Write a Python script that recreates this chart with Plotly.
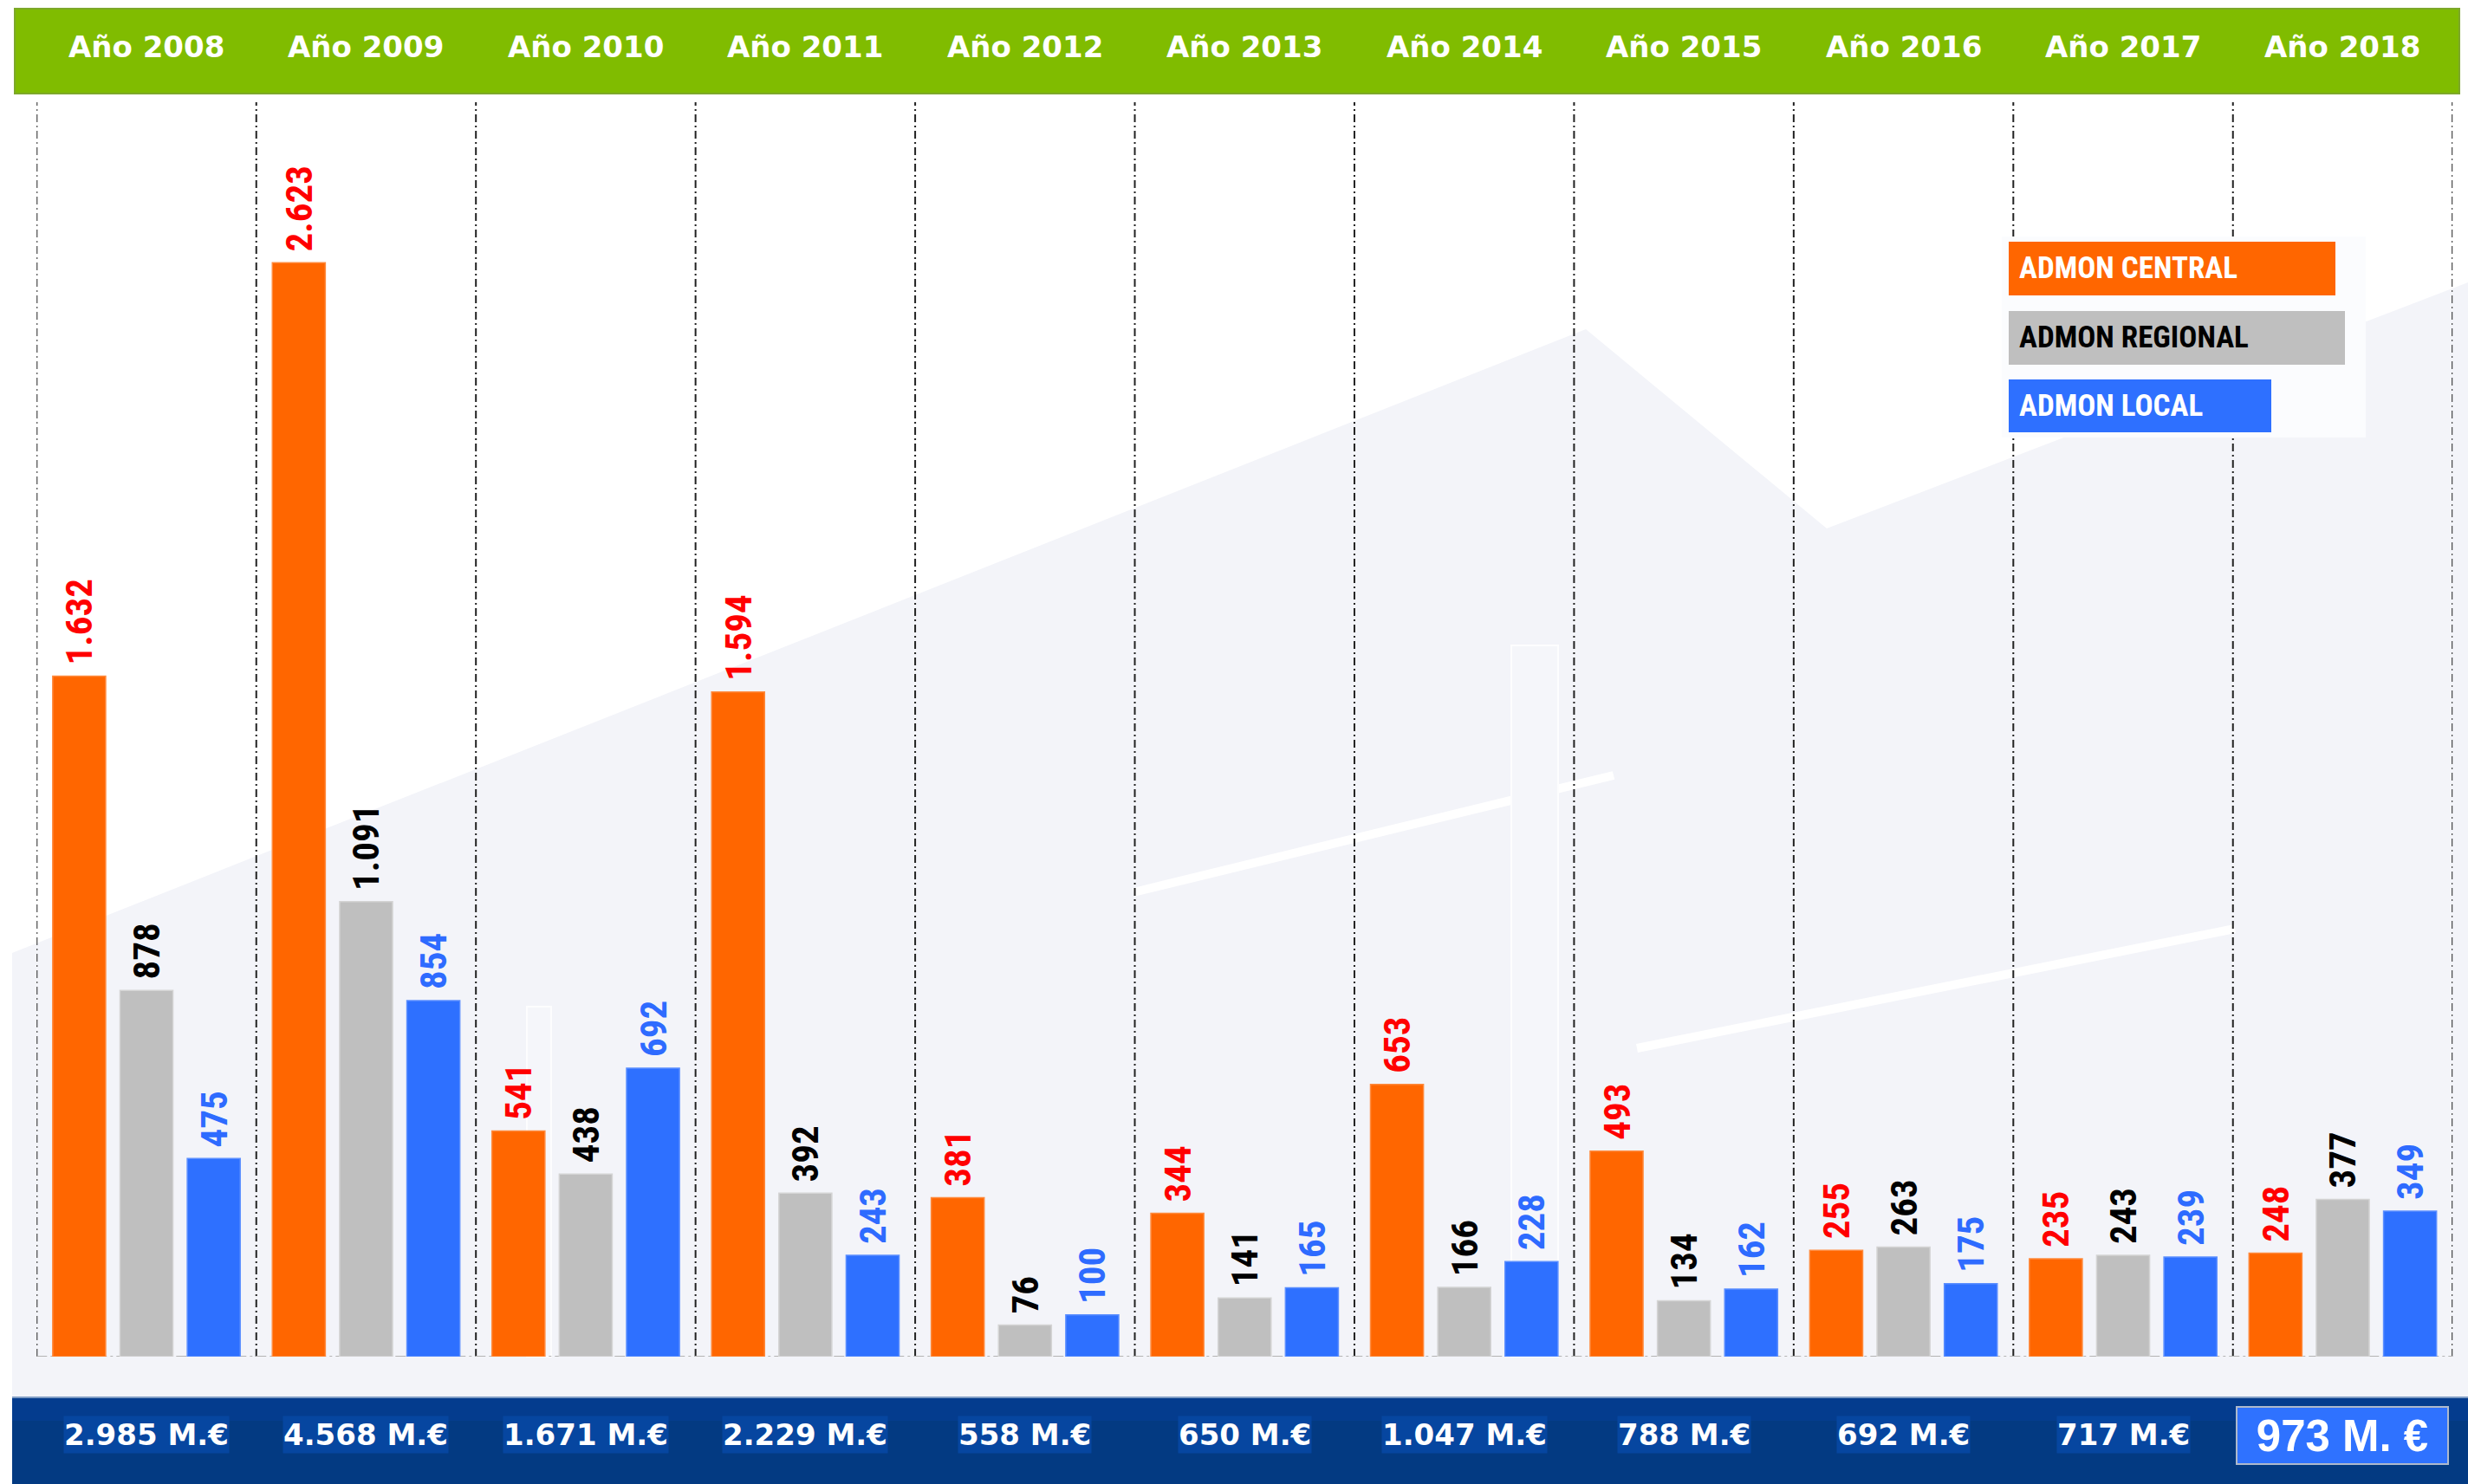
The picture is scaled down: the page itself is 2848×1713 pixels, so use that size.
import plotly.graph_objects as go

W, H = 2848, 1713

# ---------------- data ----------------
years = ["Año 2008", "Año 2009", "Año 2010", "Año 2011", "Año 2012", "Año 2013",
         "Año 2014", "Año 2015", "Año 2016", "Año 2017", "Año 2018"]
central = [1632, 2623, 541, 1594, 381, 344, 653, 493, 255, 235, 248]
regional = [878, 1091, 438, 392, 76, 141, 166, 134, 263, 243, 377]
local = [475, 854, 692, 243, 100, 165, 228, 162, 175, 239, 349]
totals = ["2.985 M.€", "4.568 M.€", "1.671 M.€", "2.229 M.€", "558 M.€", "650 M.€",
          "1.047 M.€", "788 M.€", "692 M.€", "717 M.€", "973 M. €"]
series_names = ["ADMON CENTRAL", "ADMON REGIONAL", "ADMON LOCAL"]

# ---------------- helpers ----------------
def px(x):
    return x / W


def py(y):
    return 1 - y / H


def fmt(v):
    return "\u00a0" + f"{v:,}".replace(",", ".")


def poly(points):
    s = "M " + " L ".join(f"{px(x):.5f},{py(y):.5f}" for x, y in points) + " Z"
    return s


LABEL_FONT = "Noto Sans Condensed, Roboto Condensed, Roboto, sans-serif"
HEAD_FONT = "DejaVu Sans, Verdana, sans-serif"

xs = list(range(len(years)))

series = [
    (central, "#FF6600", "#FF8A3D", "#FF0000"),
    (regional, "#BFBFBF", "#D4D4D4", "#000000"),
    (local, "#2E70FF", "#5C8FFF", "#2E6BFF"),
]

fig = go.Figure()
for (vals, col, edge, tcol), name in zip(series, series_names):
    fig.add_trace(go.Bar(
        x=xs, y=vals, name=name,
        marker=dict(color=col, line=dict(color=edge, width=1.5)),
        text=[fmt(v) for v in vals],
        textposition="outside",
        textangle=-90,
        constraintext="none",
        cliponaxis=False,
        textfont=dict(family=LABEL_FONT, size=43, color=tcol, weight="bold"),
        hoverinfo="skip",
    ))

shapes = []
# background building silhouette
shapes.append(dict(type="path", xref="paper", yref="paper", layer="below",
                   path=poly([(14, 1100), (1830, 380), (2108, 610), (2848, 326),
                              (2848, 1613), (14, 1613)]),
                   fillcolor="#F3F4F9", line=dict(width=0)))
for (x0, y0), (x1, y1) in [((1308, 1030), (1862, 895)), ((1889, 1210), (2579, 1072))]:
    shapes.append(dict(type="line", xref="paper", yref="paper", layer="below",
                       x0=px(x0), y0=py(y0), x1=px(x1), y1=py(y1),
                       line=dict(color="#FFFFFF", width=10)))
for (x0, y0, x1, y1) in [(1744, 745, 1798, 1566), (608, 1162, 636, 1566)]:
    shapes.append(dict(type="rect", xref="paper", yref="paper", layer="below",
                       x0=px(x0), y0=py(y0), x1=px(x1), y1=py(y1),
                       fillcolor="#F5F6FA", line=dict(color="#FDFDFE", width=2)))

# category separators (dash-dot)
for i in range(len(years) + 1):
    shapes.append(dict(type="line", xref="x", yref="y domain", layer="below",
                       x0=i - 0.5, x1=i - 0.5, y0=0, y1=1,
                       line=dict(color="#222222", width=2, dash="9px,4px,2px,4px")))
# baseline
shapes.append(dict(type="line", xref="x", yref="y", layer="below",
                   x0=-0.5, x1=len(years) - 0.5, y0=0, y1=0,
                   line=dict(color="#B4B4B4", width=2, dash="12px,4px,3px,4px")))

# green header
shapes.append(dict(type="rect", xref="paper", yref="paper", layer="above",
                   x0=px(17), x1=px(2838), y0=py(108), y1=py(10),
                   fillcolor="#80BC00", line=dict(color="#7DA82A", width=2)))
# bottom band
shapes.append(dict(type="rect", xref="paper", yref="paper", layer="above",
                   x0=px(14), x1=px(2848), y0=py(1713), y1=py(1613),
                   fillcolor="#033A82", line=dict(width=0)))
shapes.append(dict(type="rect", xref="paper", yref="paper", layer="above",
                   x0=px(14), x1=px(2848), y0=py(1640), y1=py(1613),
                   fillcolor="#043C8E", line=dict(width=0)))
shapes.append(dict(type="line", xref="paper", yref="paper", layer="above",
                   x0=px(14), x1=px(2848), y0=py(1613), y1=py(1613),
                   line=dict(color="#7F9CC4", width=2)))

# legend panel
shapes.append(dict(type="rect", xref="paper", yref="paper", layer="above",
                   x0=px(2310), x1=px(2730), y0=py(505), y1=py(273),
                   fillcolor="#FBFCFE", line=dict(width=0)))
leg_boxes = [(2318, 2695, 279, 341), (2318, 2706, 359, 421), (2318, 2621, 438, 499)]
leg_text_col = ["#FFFFFF", "#000000", "#FFFFFF"]
for (x0, x1, y0, y1), (_, col, _, _) in zip(leg_boxes, series):
    shapes.append(dict(type="rect", xref="paper", yref="paper", layer="above",
                       x0=px(x0), x1=px(x1), y0=py(y1), y1=py(y0),
                       fillcolor=col, line=dict(width=0)))

annotations = []
for i, yr in enumerate(years):
    annotations.append(dict(x=i, xref="x", y=py(54), yref="paper", text=yr,
                            showarrow=False, xanchor="center", yanchor="middle",
                            font=dict(family=HEAD_FONT, size=34, color="#FFFFFF", weight="bold")))
for i, t in enumerate(totals):
    if i < len(totals) - 1:
        annotations.append(dict(x=i, xref="x", y=py(1656), yref="paper", text=t,
                                showarrow=False, xanchor="center", yanchor="middle",
                                bgcolor="#0646A0", borderpad=0, height=42,
                                font=dict(family=HEAD_FONT, size=34, color="#FFFFFF", weight="bold")))
    else:
        annotations.append(dict(x=i, xref="x", y=py(1657), yref="paper", text=t,
                                showarrow=False, xanchor="center", yanchor="middle",
                                bgcolor="#2F72FF", bordercolor="#AEB9CC", borderwidth=2,
                                borderpad=0, width=242, height=64,
                                font=dict(family="Liberation Sans, Arial, sans-serif", size=51,
                                          color="#FFFFFF", weight="bold")))
for (x0, x1, y0, y1), name, tc in zip(leg_boxes, series_names, leg_text_col):
    annotations.append(dict(x=px(x0 + 10), xref="paper", y=py((y0 + y1) / 2), yref="paper",
                            text=name, showarrow=False, xanchor="left", yanchor="middle",
                            font=dict(family=LABEL_FONT, size=35, color=tc, weight="bold")))

fig.update_layout(
    width=W, height=H,
    margin=dict(l=0, r=0, t=0, b=0),
    paper_bgcolor="#FFFFFF",
    plot_bgcolor="rgba(0,0,0,0)",
    showlegend=False,
    barmode="group",
    bargap=0.081,
    bargroupgap=0.213,
    xaxis=dict(domain=[px(42.3), px(2830.2)], range=[-0.5, len(years) - 0.5],
               visible=False, fixedrange=True),
    yaxis=dict(domain=[py(1566), py(118)], range=[0, 3008], visible=False, fixedrange=True),
    shapes=shapes,
    annotations=annotations,
)

fig.write_html("out.html")
